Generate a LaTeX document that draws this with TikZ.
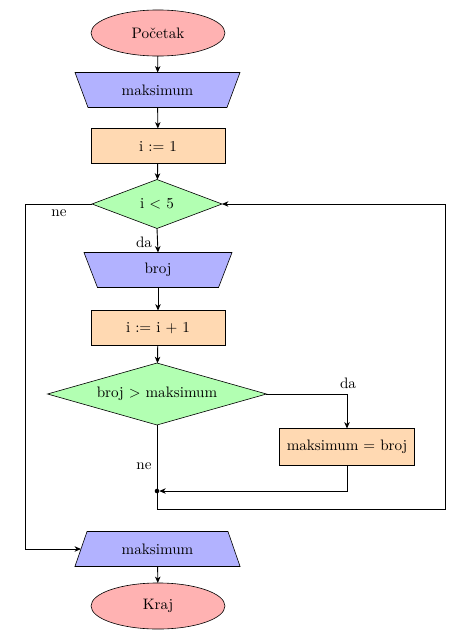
\documentclass[tikz,border=0pt]{standalone}
\usetikzlibrary{shapes.geometric,arrows.meta,backgrounds}
\begin{document}
\begin{tikzpicture}[x=0.66pt,y=-0.66pt,
  every node/.style={outer sep=0pt},
  terminal/.style={ellipse,draw,fill=red!30,minimum width=88.4pt,minimum height=30.4pt,inner sep=0pt},
  iobox/.style={rectangle,minimum height=23.1pt,inner sep=0pt},
  iofill/.style={draw,fill=blue!30},
  procbox/.style={rectangle,draw,fill=orange!30,minimum width=88.4pt,minimum height=23.1pt,inner sep=0pt},
  decision/.style={diamond,draw,fill=green!30,inner sep=0pt},
  lbl/.style={inner sep=0pt},
  conn/.style={-{Stealth[length=4.2pt,width=3.6pt,inset=1.2pt]},semithick},
  line/.style={semithick}]
\useasboundingbox (0,0) rectangle (462,642);

\node[terminal] (start) at (158,33) {Početak};
\node[iobox,minimum width=100.3pt] (in1) at (157.5,90) {maksimum};
\node[procbox] (init) at (158,146) {i := 1};
\node[decision,aspect=2.66,minimum width=85.8pt,minimum height=32.3pt] (cond1) at (157,204) {i $<$ 5};
\node[iobox,minimum width=88.8pt] (broj) at (158,270) {broj};
\node[procbox] (inc) at (158,328) {i := i $+$ 1};
\node[decision,aspect=3.53,minimum width=144.5pt,minimum height=40.9pt] (cond2) at (157,394) {broj $>$ maksimum};
\node[procbox,minimum width=89.1pt,minimum height=24.4pt] (upd) at (347,447) {maksimum $=$ broj};
\node[circle,fill=black,inner sep=0pt,minimum size=3pt] (dot) at (157,491) {};
\node[iobox,minimum width=101pt] (out) at (157.5,549) {maksimum};
\node[terminal] (end) at (158,606) {Kraj};

\begin{scope}[on background layer]
\path[iofill] ([xshift=-4.3pt]in1.north west) -- ([xshift=4.3pt]in1.north east)
  -- ([xshift=-4.3pt]in1.south east) -- ([xshift=4.3pt]in1.south west) -- cycle;
\path[iofill] ([xshift=-4.45pt]broj.north west) -- ([xshift=4.45pt]broj.north east)
  -- ([xshift=-4.45pt]broj.south east) -- ([xshift=4.45pt]broj.south west) -- cycle;
\path[iofill] ([xshift=4pt]out.north west) -- ([xshift=-4pt]out.north east)
  -- ([xshift=4pt]out.south east) -- ([xshift=-4pt]out.south west) -- cycle;
\end{scope}

\coordinate (lft) at (25,204);
\coordinate (br) at (445,509);

\node[lbl] (ne1) at (59,213) {ne};
\node[lbl] (da1) at (144,242) {da};
\node[lbl] (da2) at (348,383) {da};
\node[lbl] (ne2) at (144,466) {ne};

\draw[conn] (start) -- (in1);
\draw[conn] (in1) -- (init);
\draw[conn] (init) -- (cond1);
\draw[conn] (cond1.south) -- (broj.north);
\draw[conn] (cond1.west) -- (lft) |- (out.west);
\draw[conn] (broj) -- (inc);
\draw[conn] (inc) -- (cond2);
\draw[conn] (cond2.east) -| (upd.north);
\draw[conn] (upd.south) |- (dot);
\draw[line] (cond2.south) -- (dot);
\draw[conn] (dot) |- (br) |- (cond1.east);
\draw[conn] (out) -- (end);
\end{tikzpicture}
\end{document}
